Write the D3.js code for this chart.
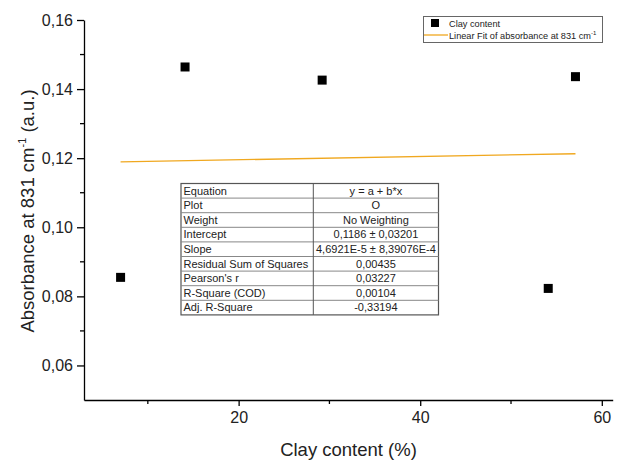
<!DOCTYPE html>
<html><head><meta charset="utf-8">
<script src="https://cdn.jsdelivr.net/npm/d3@7"></script>
<style>body{margin:0;background:#fff}svg{display:block;font-family:"Liberation Sans",Arial,sans-serif}</style>
</head><body><svg id="c" width="630" height="465"></svg>
<script>
const clayContent = [7.0, 14.1, 29.2, 54.1, 57.1];
const absorbance = [0.0855, 0.1464, 0.1426, 0.0823, 0.1436];
const fitIntercept = 0.1186;
const fitSlope = 4.6921e-5;
const xTicks = [20, 40, 60];
const xMinorTicks = [10, 30, 50];
const yTicks = [0.06, 0.08, 0.10, 0.12, 0.14, 0.16];
const yMinorTicks = [0.07, 0.09, 0.11, 0.13, 0.15];
const tableLabels = ["Equation","Plot","Weight","Intercept","Slope","Residual Sum of Squares","Pearson's r","R-Square (COD)","Adj. R-Square"];
const tableValues = ["y = a + b*x","O","No Weighting","0,1186 \u00b1 0,03201","4,6921E-5 \u00b1 8,39076E-4","0,00435","0,03227","0,00104","-0,33194"];
const legendLabels = ["Clay content","Linear Fit of absorbance at 831 cm"];

const svg = d3.select("#c");
const x = d3.scaleLinear().domain([2.97, 61.2]).range([84, 612.7]);
const y = d3.scaleLinear().domain([0.05, 0.16]).range([400, 20]);
const fmt = d => d3.format(".2f")(d).replace(".", ",");
const txt = "#222";
const orange = "#f0a820";

// fit line
const fx = [d3.min(clayContent), d3.max(clayContent)];
svg.append("line")
  .attr("x1", x(fx[0])).attr("x2", x(fx[1]))
  .attr("y1", y(fitIntercept + fitSlope*fx[0])).attr("y2", y(fitIntercept + fitSlope*fx[1]))
  .attr("stroke", orange).attr("stroke-width", 1.3);

// points
svg.selectAll("rect.pt").data(clayContent).join("rect").attr("class","pt")
  .attr("x", d => x(d) - 4.5).attr("y", (d,i) => y(absorbance[i]) - 4.5)
  .attr("width", 9).attr("height", 9).attr("fill", "#000");

// axes
const gx = svg.append("g").attr("transform","translate(0,400)");
gx.call(d3.axisBottom(x).tickValues(xTicks).tickSize(6).tickSizeOuter(0).tickFormat(d3.format("d")));
gx.select(".domain").attr("stroke","#000").attr("stroke-width",1.3);
gx.selectAll(".tick line").attr("stroke","#000").attr("stroke-width",1.3);
gx.selectAll(".tick text").attr("font-size",16).attr("fill",txt).attr("dy","1.45em").attr("y",0);
svg.append("g").attr("transform","translate(0,400)").selectAll("line").data(xMinorTicks).join("line")
  .attr("x1",d=>x(d)).attr("x2",d=>x(d)).attr("y1",0).attr("y2",4).attr("stroke","#000").attr("stroke-width",1.3);

const gy = svg.append("g").attr("transform","translate(84,0)");
gy.call(d3.axisLeft(y).tickValues(yTicks).tickSize(7).tickSizeOuter(0).tickFormat(fmt));
gy.select(".domain").attr("stroke","#000").attr("stroke-width",1.3);
gy.selectAll(".tick line").attr("stroke","#000").attr("stroke-width",1.3);
gy.selectAll(".tick text").attr("font-size",16).attr("fill",txt).attr("x",-11);
svg.append("g").attr("transform","translate(84,0)").selectAll("line").data(yMinorTicks).join("line")
  .attr("x1",0).attr("x2",-4).attr("y1",d=>y(d)).attr("y2",d=>y(d)).attr("stroke","#000").attr("stroke-width",1.3);

// axis titles
svg.append("text").attr("x",348.5).attr("y",455.5).attr("text-anchor","middle")
  .attr("font-size",18.5).attr("fill",txt).text("Clay content (%)");
const yl = svg.append("text").attr("transform","translate(33.5,211) rotate(-90)").attr("text-anchor","middle")
  .attr("font-size",18.5).attr("fill",txt);
yl.append("tspan").text("Absorbance at 831 cm");
yl.append("tspan").attr("font-size",11).attr("dy",-8).text("-1");
yl.append("tspan").attr("dy",8).text(" (a.u.)");

// legend
const lg = svg.append("g");
lg.append("rect").attr("x",423.5).attr("y",16.5).attr("width",179).attr("height",26)
  .attr("fill","#fff").attr("stroke","#666").attr("stroke-width",1);
lg.append("rect").attr("x",431).attr("y",19).attr("width",8).attr("height",8).attr("fill","#000");
lg.append("line").attr("x1",424).attr("x2",448).attr("y1",35).attr("y2",35).attr("stroke",orange).attr("stroke-width",1.3);
lg.append("text").attr("x",449).attr("y",26.5).attr("font-size",9.2).attr("fill",txt).text(legendLabels[0]);
const l2 = lg.append("text").attr("x",449).attr("y",38.5).attr("font-size",9.2).attr("fill",txt);
l2.append("tspan").text(legendLabels[1]);
l2.append("tspan").attr("font-size",6).attr("dy",-4).text("-1");

// table
const tx0 = 181, tx1 = 313.3, tx2 = 438.5, ty0 = 183.5, rh = 14.6;
const tg = svg.append("g");
tg.append("rect").attr("x",tx0).attr("y",ty0).attr("width",tx2-tx0).attr("height",rh*tableLabels.length)
  .attr("fill","#fff").attr("stroke","#555").attr("stroke-width",1.2);
tableLabels.forEach((lab,i)=>{
  if(i>0) tg.append("line").attr("x1",tx0).attr("x2",tx2).attr("y1",ty0+rh*i).attr("y2",ty0+rh*i).attr("stroke","#888").attr("stroke-width",1);
  tg.append("text").attr("x",tx0+2.5).attr("y",ty0+rh*i+rh-3.6).attr("font-size",11).attr("fill",txt).text(lab);
  tg.append("text").attr("x",(tx1+tx2)/2).attr("y",ty0+rh*i+rh-3.6).attr("text-anchor","middle").attr("font-size",11).attr("fill",txt).text(tableValues[i]);
});
tg.append("line").attr("x1",tx1).attr("x2",tx1).attr("y1",ty0).attr("y2",ty0+rh*tableLabels.length).attr("stroke","#555").attr("stroke-width",1);
</script></body></html>
